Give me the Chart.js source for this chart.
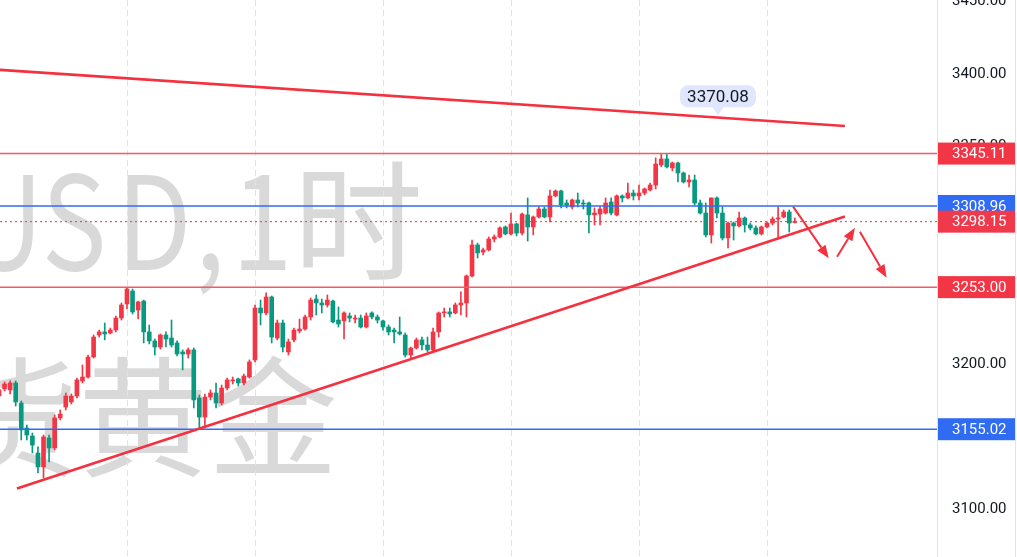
<!DOCTYPE html>
<html lang="zh">
<head>
<meta charset="UTF-8">
<title>XAUUSD 1H</title>
<script src="https://cdn.jsdelivr.net/npm/chart.js@4.4.1/dist/chart.umd.min.js"></script>
<style>
    html, body { margin: 0; padding: 0; background: #ffffff; }
    .chart-container { width: 1017px; height: 557px; position: relative; }
</style>
</head>
<body>
<div class="chart-container"><canvas id="myChart"></canvas></div>
<script>
// hourly candles (index = bar number)
const opens = [3177.9,3182.8,3182.1,3186.9,3173.1,3155.9,3150.3,3138.6,3129.0,3149.0,
    3142.1,3162.8,3170.3,3173.8,3177.9,3188.3,3191.0,3204.8,3220.0,3222.1,
    3221.4,3223.4,3231.7,3241.4,3250.3,3237.2,3243.4,3222.1,3215.9,3211.7,
    3220.0,3217.9,3214.5,3208.3,3206.9,3209.7,3176.6,3163.4,3177.2,3180.0,
    3173.1,3183.4,3188.3,3189.7,3186.9,3191.0,3202.8,3238.6,3235.2,3246.2,
    3217.9,3228.3,3208.3,3216.6,3222.8,3224.1,3232.4,3244.8,3242.1,3240.7,
    3243.4,3230.3,3229.7,3233.1,3231.0,3231.7,3225.5,3235.2,3232.4,3229.7,
    3225.5,3223.4,3222.1,3220.0,3206.2,3211.0,3216.6,3213.1,3209.7,3222.1,
    3235.2,3235.9,3235.2,3240.7,3242.1,3260.7,3282.1,3277.2,3278.6,3286.2,
    3287.6,3294.5,3289.7,3296.6,3290.3,3302.8,3294.5,3301.4,3306.9,3301.4,
    3315.9,3319.3,3311.0,3308.3,3313.1,3311.0,3311.0,3302.8,3303.4,3304.1,
    3311.7,3302.8,3315.9,3314.5,3317.9,3315.9,3317.9,3320.0,3323.4,3337.2,
    3341.4,3335.2,3338.6,3331.7,3325.5,3326.9,3311.0,3304.1,3289.0,3314.5,
    3304.1,3286.9,3297.2,3295.2,3300.7,3295.9,3293.8,3289.7,3294.5,3297.2,
    3300.0,3301.4,3304.8,3297.6];
const highs = [3183.4,3187.6,3188.3,3188.3,3174.5,3157.9,3152.4,3142.8,3151.0,3151.0,
    3164.8,3168.3,3180.0,3179.3,3190.3,3199.3,3206.2,3220.0,3223.4,3228.3,
    3224.8,3233.1,3242.1,3252.4,3251.7,3243.4,3244.1,3226.9,3217.2,3220.7,
    3222.1,3230.3,3215.9,3209.7,3211.0,3211.0,3178.6,3179.3,3182.1,3186.9,
    3185.5,3190.3,3191.0,3190.3,3193.1,3202.8,3240.7,3244.1,3249.0,3246.9,
    3230.3,3230.3,3217.2,3224.8,3231.0,3233.8,3245.5,3247.6,3244.8,3247.6,
    3244.1,3239.3,3235.9,3235.2,3233.8,3233.8,3235.2,3235.9,3233.8,3230.3,
    3226.9,3224.8,3232.4,3221.4,3211.7,3217.9,3218.6,3218.6,3224.8,3235.9,
    3238.6,3238.6,3242.1,3249.7,3261.4,3285.5,3283.4,3280.0,3287.6,3289.0,
    3294.5,3295.2,3304.1,3297.2,3304.1,3314.5,3302.1,3308.3,3308.3,3320.0,
    3320.0,3320.0,3313.1,3313.8,3317.9,3313.1,3311.7,3307.6,3308.3,3314.5,
    3314.5,3316.6,3316.6,3324.8,3320.0,3323.4,3321.4,3324.8,3342.1,3345.1,
    3345.1,3339.3,3339.3,3332.4,3330.3,3330.3,3313.1,3311.0,3314.5,3315.2,
    3308.3,3297.9,3297.9,3304.8,3301.4,3297.2,3295.2,3295.2,3297.9,3301.4,
    3308.3,3306.2,3306.2,3300.7];
const lows = [3176.6,3181.4,3179.3,3171.0,3147.6,3147.6,3138.6,3124.8,3121.4,3132.4,
    3140.7,3161.4,3168.3,3172.4,3176.6,3186.9,3190.3,3204.1,3218.6,3216.6,
    3220.7,3222.1,3230.3,3237.9,3234.5,3231.0,3214.5,3213.8,3206.2,3210.3,
    3211.7,3211.7,3205.5,3195.9,3204.1,3169.7,3155.9,3155.9,3175.2,3169.7,
    3171.7,3182.1,3186.2,3184.8,3185.5,3190.3,3201.4,3226.9,3233.8,3214.5,
    3216.6,3208.3,3206.2,3215.2,3221.4,3223.4,3230.3,3233.8,3235.2,3239.3,
    3228.3,3225.5,3217.2,3229.0,3228.3,3224.8,3224.8,3231.0,3228.3,3223.4,
    3220.0,3214.5,3220.0,3204.8,3204.1,3210.3,3209.7,3208.3,3209.0,3218.6,
    3232.4,3232.4,3234.5,3233.8,3232.4,3260.0,3273.1,3275.2,3277.9,3284.1,
    3286.9,3289.0,3289.0,3288.3,3289.0,3284.8,3289.0,3300.7,3300.7,3297.9,
    3315.2,3307.6,3307.6,3306.9,3308.3,3306.9,3290.3,3295.9,3295.9,3303.4,
    3302.8,3302.1,3311.7,3313.8,3313.1,3313.1,3316.6,3319.3,3320.7,3335.9,
    3335.2,3333.1,3325.5,3324.8,3322.1,3309.7,3303.4,3287.6,3283.4,3300.7,
    3285.5,3280.0,3285.5,3294.5,3291.0,3292.4,3289.0,3289.0,3293.8,3295.9,
    3286.9,3300.7,3291.0,3297.2];
const closes = [3182.1,3186.2,3186.9,3173.8,3154.5,3151.0,3144.1,3129.0,3149.7,3142.1,
    3162.8,3165.5,3177.9,3177.9,3189.0,3191.0,3204.8,3218.6,3222.1,3220.7,
    3223.4,3231.7,3240.7,3251.7,3235.9,3242.8,3222.1,3215.9,3211.7,3220.0,
    3217.2,3213.1,3206.9,3206.9,3209.7,3175.2,3163.4,3177.2,3180.0,3173.1,
    3183.4,3189.0,3189.0,3186.9,3191.7,3201.4,3238.6,3235.2,3246.2,3218.6,
    3228.3,3211.7,3215.2,3223.4,3224.1,3232.4,3244.1,3242.1,3240.7,3244.1,
    3229.0,3227.6,3235.2,3231.7,3231.7,3225.5,3233.1,3232.4,3230.3,3225.5,
    3222.1,3222.1,3220.7,3206.2,3211.0,3216.6,3213.1,3209.7,3222.1,3235.2,
    3235.9,3234.5,3240.7,3242.1,3260.7,3282.1,3276.6,3278.6,3286.2,3287.6,
    3293.8,3289.7,3296.6,3290.3,3303.4,3294.5,3301.4,3306.9,3301.4,3315.9,
    3319.3,3309.7,3309.7,3313.1,3311.0,3310.3,3302.8,3304.1,3306.9,3311.0,
    3304.1,3315.9,3314.5,3317.9,3315.9,3317.9,3320.7,3323.4,3337.9,3341.4,
    3335.9,3338.6,3331.7,3325.5,3326.9,3311.0,3304.1,3289.0,3314.5,3304.1,
    3286.9,3297.2,3295.2,3300.7,3295.9,3293.8,3289.7,3294.5,3297.2,3300.0,
    3300.7,3304.8,3297.2,3298.15];

// first bar of each trading day (23 bars a day)
const dayStarts = [23, 46, 69, 92, 115, 138];

// price axis labels
const yTicks = [3100, 3150, 3200, 3250, 3300, 3350, 3400, 3450];

// drawn levels
const redLevels = [3345.11, 3253.00];
const blueLevels = [3308.96, 3155.02];
const lastPrice = 3298.15;

// trend lines: [bar, price] pairs
const supportLine = [[3.23, 3114.1], [152.0, 3301.7]];
const resistLine = [[0.18, 3402.8], [152.0, 3364.1]];
const resistNote = [129.2, 3370.08];

// projected arrows: [fromBar, fromPrice, toBar, toPrice]
const arrows = [
    [142.7, 3308.5, 149.1, 3272.9],
    [150.6, 3274.0, 153.8, 3294.0],
    [154.7, 3291.2, 159.5, 3259.5]
];

const xMin = 0.18, xMax = 168.55;
const UP = '#f23645', DOWN = '#089981';
const RED = '#f5303f', BLUE = '#2f6bf3';

const bars = opens.map((_, i) => i);
const candleColors = bars.map(i => closes[i] >= opens[i] ? UP : DOWN);

function hLine(v, color, width, dash) {
    return {
        type: 'line',
        data: [{ x: xMin, y: v }, { x: xMax, y: v }],
        borderColor: color,
        borderWidth: width,
        borderDash: dash || [],
        pointRadius: 0,
        order: 2
    };
}

function trend(pts) {
    return {
        type: 'line',
        data: pts.map(p => ({ x: p[0], y: p[1] })),
        borderColor: RED,
        borderWidth: 2.6,
        pointRadius: 0,
        order: 1
    };
}

const backdrop = {
    id: 'backdrop',
    beforeDatasetsDraw(chart) {
        const { ctx, chartArea, scales: { x } } = chart;
        ctx.save();
        ctx.beginPath();
        ctx.rect(chartArea.left, chartArea.top, chartArea.right - chartArea.left, chartArea.bottom - chartArea.top);
        ctx.clip();

        // symbol watermark
        ctx.fillStyle = 'rgba(0, 0, 0, 0.15)';
        ctx.font = '130px "Noto Sans CJK SC"';
        ctx.textBaseline = 'alphabetic';
        ctx.textAlign = 'center';
        const line1 = [['X', -235], ['A', -155], ['U', -78], ['U', 4], ['S', 74], ['D', 154], [',', 210], ['1', 262]];
        line1.forEach(([ch, cx]) => {
            ctx.save();
            ctx.translate(cx, 270);
            ctx.scale(0.84, 1);
            ctx.fillText(ch, 0, 0);
            ctx.restore();
        });
        ctx.fillText('时', 358, 270);
        ctx.textAlign = 'left';
        ctx.fillText('现货黄金', -182, 466);

        // day separators
        ctx.strokeStyle = '#dfe2ea';
        ctx.lineWidth = 1;
        ctx.setLineDash([6, 4]);
        dayStarts.forEach(d => {
            const px = Math.round(x.getPixelForValue(d)) + 0.5;
            ctx.beginPath();
            ctx.moveTo(px, chartArea.top);
            ctx.lineTo(px, chartArea.bottom);
            ctx.stroke();
        });
        ctx.restore();
    }
};

const drawings = {
    id: 'drawings',
    afterDatasetsDraw(chart) {
        const { ctx, scales: { x, y } } = chart;
        ctx.save();

        // arrows
        ctx.strokeStyle = RED;
        ctx.fillStyle = RED;
        ctx.lineWidth = 2;
        arrows.forEach(([i0, p0, i1, p1]) => {
            const x0 = x.getPixelForValue(i0), y0 = y.getPixelForValue(p0);
            const x1 = x.getPixelForValue(i1), y1 = y.getPixelForValue(p1);
            const a = Math.atan2(y1 - y0, x1 - x0);
            const hl = 13, hw = 5;
            const bx = x1 - hl * Math.cos(a), by = y1 - hl * Math.sin(a);
            ctx.beginPath();
            ctx.moveTo(x0, y0);
            ctx.lineTo(bx, by);
            ctx.stroke();
            ctx.beginPath();
            ctx.moveTo(x1, y1);
            ctx.lineTo(bx + hw * Math.sin(a), by - hw * Math.cos(a));
            ctx.lineTo(bx - hw * Math.sin(a), by + hw * Math.cos(a));
            ctx.closePath();
            ctx.fill();
        });

        // price note on the falling line
        const cx = x.getPixelForValue(resistNote[0]);
        const tip = y.getPixelForValue(resistNote[1]);
        const w = 76, h = 22, bottom = tip - 10;
        ctx.fillStyle = '#dfe6fd';
        ctx.beginPath();
        ctx.roundRect(cx - w / 2, bottom - h, w, h, 8);
        ctx.fill();
        ctx.beginPath();
        ctx.moveTo(cx - 6, bottom - 1);
        ctx.lineTo(cx, tip - 2);
        ctx.lineTo(cx + 6, bottom - 1);
        ctx.closePath();
        ctx.fill();
        ctx.fillStyle = '#131722';
        ctx.font = '17px Roboto';
        ctx.textAlign = 'center';
        ctx.textBaseline = 'middle';
        ctx.fillText(resistNote[1].toFixed(2), cx, bottom - h / 2 + 1);
        ctx.restore();
    },
    afterDraw(chart) {
        const { ctx, chartArea, scales: { y } } = chart;
        ctx.save();
        const tags = [
            [redLevels[0], UP],
            [blueLevels[0], BLUE],
            [lastPrice, '#f0394b'],
            [redLevels[1], UP],
            [blueLevels[1], BLUE]
        ];
        ctx.font = '15px Roboto';
        ctx.textBaseline = 'middle';
        ctx.textAlign = 'left';
        tags.forEach(([v, c]) => {
            const py = y.getPixelForValue(v);
            ctx.fillStyle = c;
            ctx.fillRect(chartArea.right + 1, py - 11, 78, 22);
            ctx.fillStyle = '#ffffff';
            ctx.fillText(v.toFixed(2), chartArea.right + 15, py + 1);
        });
        ctx.strokeStyle = '#e0e3eb';
        ctx.lineWidth = 1;
        ctx.beginPath();
        ctx.moveTo(1015.5, 0);
        ctx.lineTo(1015.5, chart.height);
        ctx.stroke();
        ctx.restore();
    }
};

const data = {
    datasets: [
        trend(resistLine),
        trend(supportLine),
        hLine(redLevels[0], '#f25a67', 1.5),
        hLine(redLevels[1], '#f25a67', 1.5),
        hLine(blueLevels[0], BLUE, 1.4),
        hLine(blueLevels[1], BLUE, 1.4),
        hLine(lastPrice, UP, 1, [2, 3]),
        {
            type: 'bar',
            data: bars.map(i => ({ x: i, y: [opens[i], closes[i]] })),
            backgroundColor: candleColors,
            barThickness: 4,
            minBarLength: 1,
            grouped: false,
            order: 5
        },
        {
            type: 'bar',
            data: bars.map(i => ({ x: i, y: [lows[i], highs[i]] })),
            backgroundColor: candleColors,
            barThickness: 1,
            grouped: false,
            order: 6
        }
    ]
};

const config = {
    type: 'bar',
    data,
    options: {
        responsive: true,
        maintainAspectRatio: false,
        devicePixelRatio: 1,
        animation: false,
        layout: { padding: 0 },
        plugins: {
            legend: { display: false },
            tooltip: { enabled: false }
        },
        scales: {
            x: {
                type: 'linear',
                min: xMin,
                max: xMax,
                offset: false,
                display: false
            },
            y: {
                position: 'right',
                min: 3066.9,
                max: 3451,
                grid: { display: false, drawTicks: false },
                border: { color: '#e0e3eb' },
                afterBuildTicks(scale) {
                    scale.ticks = yTicks.map(v => ({ value: v }));
                },
                ticks: {
                    color: '#131722',
                    font: { family: 'Roboto', size: 15 },
                    crossAlign: 'near',
                    padding: 15,
                    callback: v => v.toFixed(2)
                },
                afterFit(scale) {
                    scale.width = 80;
                    scale.paddingTop = 0;
                    scale.paddingBottom = 0;
                }
            }
        }
    },
    plugins: [backdrop, drawings]
};

const myChart = new Chart(document.getElementById('myChart'), config);
</script>
</body>
</html>
